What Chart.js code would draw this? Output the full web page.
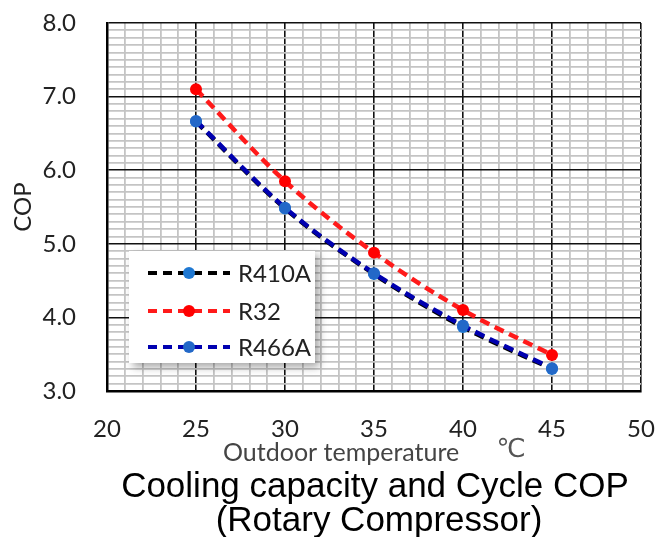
<!DOCTYPE html>
<html>
<head>
<meta charset="utf-8">
<script src="https://cdn.jsdelivr.net/npm/chart.js@4"></script>
<style>
  html, body { margin: 0; padding: 0; background: #fff; }
  #wrap { width: 656px; height: 537px; position: relative; }
</style>
</head>
<body>
<div id="wrap"><canvas id="c" width="656" height="537"></canvas></div>
<script>
// Outdoor temperature (°C) and cycle COP for each refrigerant
const temperatures = [25, 30, 35, 40, 45];
const copR410A = [6.66, 5.48, 4.59, 3.87, 3.30];
const copR32   = [7.10, 5.85, 4.88, 4.10, 3.49];
const copR466A = [6.67, 5.49, 4.60, 3.89, 3.31];
const seriesNames = ['R410A', 'R32', 'R466A'];
const xTickValues = [20, 25, 30, 35, 40, 45, 50];
const yTickValues = [3, 4, 5, 6, 7, 8];

const toPoints = (vals) => vals.map((v, i) => ({ x: temperatures[i], y: v }));
const isWhole = (v, step) => Math.abs(v / step - Math.round(v / step)) < 1e-6;

const FONT = 'Lato, "Open Sans", sans-serif';

// Legend box drawn inside the plot area, with a soft drop shadow
const boxLegend = {
  id: 'boxLegend',
  afterDatasetsDraw(chart) {
    const ctx = chart.ctx;
    const x = 129, y = 251, w = 186, h = 112;
    ctx.save();
    ctx.shadowColor = 'rgba(0,0,0,0.35)';
    ctx.shadowBlur = 8;
    ctx.shadowOffsetX = 4;
    ctx.shadowOffsetY = 4;
    ctx.fillStyle = '#fff';
    ctx.fillRect(x, y, w, h);
    ctx.restore();

    const rows = [273, 311, 347];
    [0, 1, 2].forEach((di, r) => {
      const ds = chart.data.datasets[di];
      const cy = rows[r];
      ctx.save();
      ctx.strokeStyle = ds.borderColor;
      ctx.lineWidth = 4;
      ctx.setLineDash([9, 6]);
      ctx.beginPath();
      ctx.moveTo(148, cy);
      ctx.lineTo(230, cy);
      ctx.stroke();
      ctx.setLineDash([]);
      ctx.fillStyle = ds.pointBackgroundColor;
      ctx.beginPath();
      ctx.arc(189, cy, 6, 0, Math.PI * 2);
      ctx.fill();
      ctx.fillStyle = '#222';
      ctx.font = '24px ' + FONT;
      ctx.textBaseline = 'middle';
      ctx.textAlign = 'left';
      ctx.fillText(ds.label, 238, cy + 1);
      ctx.restore();
    });
  }
};

// Axis titles and the caption under the chart
const captions = {
  id: 'captions',
  afterDraw(chart) {
    const ctx = chart.ctx;
    ctx.save();
    ctx.fillStyle = '#222';
    ctx.font = '24px ' + FONT;
    ctx.textAlign = 'center';
    ctx.textBaseline = 'middle';
    ctx.translate(23, 207);
    ctx.rotate(-Math.PI / 2);
    ctx.fillText('COP', 0, 0);
    ctx.restore();

    ctx.save();
    ctx.fillStyle = '#444';
    ctx.font = '25px ' + FONT;
    ctx.textAlign = 'left';
    ctx.textBaseline = 'middle';
    ctx.fillText('Outdoor temperature', 223, 453);
    ctx.textAlign = 'center';
    ctx.fillStyle = '#555';
    ctx.font = '26px "DejaVu Sans", sans-serif';
    ctx.fillText('℃', 511, 450);
    ctx.fillStyle = '#000';
    ctx.font = '35px "Liberation Sans", Arial, sans-serif';
    ctx.fillText('Cooling capacity and Cycle COP', 375, 487);
    ctx.fillText('(Rotary Compressor)', 379, 521);
    ctx.restore();
  }
};

const dsStyle = (color, pointColor) => ({
  borderColor: color,
  backgroundColor: color,
  pointBackgroundColor: pointColor,
  pointBorderColor: pointColor,
  pointRadius: 6,
  pointBorderWidth: 0,
  borderWidth: 4.5,
  borderDash: [10, 6],
  tension: 0.35,
  cubicInterpolationMode: 'monotone',
  fill: false
});

new Chart(document.getElementById('c'), {
  type: 'line',
  data: {
    datasets: [
      Object.assign({ label: seriesNames[0], data: toPoints(copR410A), order: 2 }, dsStyle('#000000', '#1f78d2')),
      Object.assign({ label: seriesNames[1], data: toPoints(copR32), order: 1 }, dsStyle('#ff1a1a', '#ff0000')),
      Object.assign({ label: seriesNames[2], data: toPoints(copR466A), order: 0 }, dsStyle('#0000b0', '#2368c8'))
    ]
  },
  options: {
    responsive: false,
    animation: false,
    layout: { padding: { top: 23, right: 15, left: 0, bottom: 0 } },
    plugins: { legend: { display: false }, tooltip: { enabled: false } },
    scales: {
      x: {
        type: 'linear',
        min: 20, max: 50,
        afterFit(scale) {
          scale.height = 146;
          scale.paddingLeft = 0;
          scale.paddingRight = 0;
        },
        border: { display: true, color: '#000', width: 2.5 },
        grid: {
          drawTicks: false,
          color: (c) => isWhole(c.tick.value, 5) ? '#111' : '#c4c4c4',
          lineWidth: (c) => isWhole(c.tick.value, 5) ? 1.6 : 1.8
        },
        ticks: {
          stepSize: 1,
          autoSkip: false,
          maxRotation: 0,
          padding: 24,
          color: '#222',
          font: { family: FONT, size: 24 },
          callback: (v) => xTickValues.some(t => Math.abs(v - t) < 1e-6) ? String(Math.round(v)) : ''
        }
      },
      y: {
        type: 'linear',
        min: 3, max: 8,
        afterFit(scale) {
          scale.width = 107;
          scale.paddingTop = 0;
          scale.paddingBottom = 0;
        },
        border: { display: true, color: '#000', width: 2.5 },
        grid: {
          drawTicks: false,
          color: (c) => isWhole(c.tick.value, 1) ? '#111' : '#c4c4c4',
          lineWidth: (c) => isWhole(c.tick.value, 1) ? 1.6 : 1.8
        },
        ticks: {
          stepSize: 0.1,
          maxTicksLimit: 100,
          autoSkip: false,
          padding: 31,
          color: '#222',
          font: { family: FONT, size: 24 },
          callback: (v) => yTickValues.some(t => Math.abs(v - t) < 1e-6) ? Number(v).toFixed(1) : ''
        }
      }
    }
  },
  plugins: [boxLegend, captions]
});
</script>
</body>
</html>
